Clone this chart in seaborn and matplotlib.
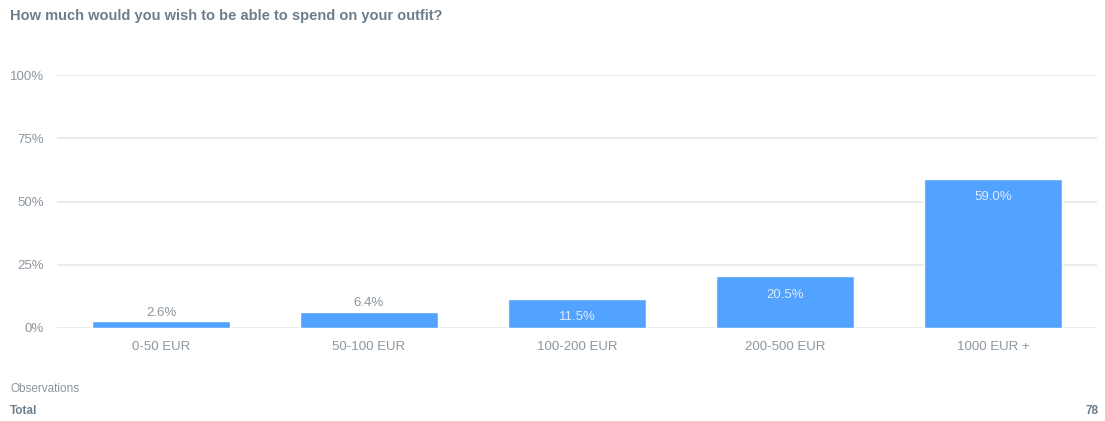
import matplotlib
matplotlib.use("Agg")
import matplotlib.pyplot as plt
import seaborn as sns
import pandas as pd

categories = ["0-50 EUR", "50-100 EUR", "100-200 EUR", "200-500 EUR", "1000 EUR +"]
shares = [2.6, 6.4, 11.5, 20.5, 59.0]
ytick_values = [0, 25, 50, 75, 100]
ytick_labels = ["0%", "25%", "50%", "75%", "100%"]
title = "How much would you wish to be able to spend on your outfit?"
observations_total = 78

sns.set_theme(style="white")
plt.rcParams["font.family"] = ["Liberation Sans", "DejaVu Sans"]

BAR = "#52A2FF"
TEXT = "#8C969F"
TITLE = "#6E7D8A"
GRID = "#E6E8EA"

df = pd.DataFrame({"category": categories, "share": shares})

fig = plt.figure(figsize=(11.05, 4.21), dpi=100)
ax = fig.add_axes([57 / 1105, 93 / 421, 1040 / 1105, 253 / 421])

sns.barplot(data=df, x="category", y="share", color=BAR, saturation=1,
            width=0.668, ax=ax, zorder=3)

ax.set_xlim(-0.5, len(categories) - 0.5)
ax.set_ylim(0, 100)
ax.set_yticks(ytick_values)
ax.set_yticklabels(ytick_labels)
ax.set_xlabel("")
ax.set_ylabel("")
for s in ax.spines.values():
    s.set_visible(False)
ax.grid(axis="y", color=GRID, linewidth=1.2, zorder=0)
ax.set_axisbelow(True)
ax.tick_params(axis="x", length=0, pad=9, labelsize=9.5, labelcolor=TEXT)
ax.tick_params(axis="y", length=0, pad=9.5, labelsize=9.5, labelcolor=TEXT)

# value labels: above short bars, inside tall ones
for patch, v in zip(ax.patches, shares):
    cx = patch.get_x() + patch.get_width() / 2
    if v < 10:
        ax.annotate(f"{v:.1f}%", (cx, v), xytext=(0, 2), textcoords="offset points",
                    ha="center", va="bottom", fontsize=9.5, color=TEXT)
    else:
        ax.annotate(f"{v:.1f}%", (cx, v), xytext=(0, -9), textcoords="offset points",
                    ha="center", va="top", fontsize=9.5, color="#DCEBFF")

fig.text(10 / 1105, 1 - 16 / 421, title, ha="left", va="center",
         fontsize=10.5, fontweight="bold", color=TITLE)
fig.text(10 / 1105, 1 - 389 / 421, "Observations", ha="left", va="center",
         fontsize=8.5, color=TEXT)
fig.text(10 / 1105, 1 - 411 / 421, "Total", ha="left", va="center",
         fontsize=8.5, fontweight="bold", color="#6E7D8A")
fig.text(1098 / 1105, 1 - 411 / 421, str(observations_total), ha="right", va="center",
         fontsize=8.5, fontweight="bold", color="#6E7D8A")

fig.savefig("out.png", dpi=100, facecolor="white")
